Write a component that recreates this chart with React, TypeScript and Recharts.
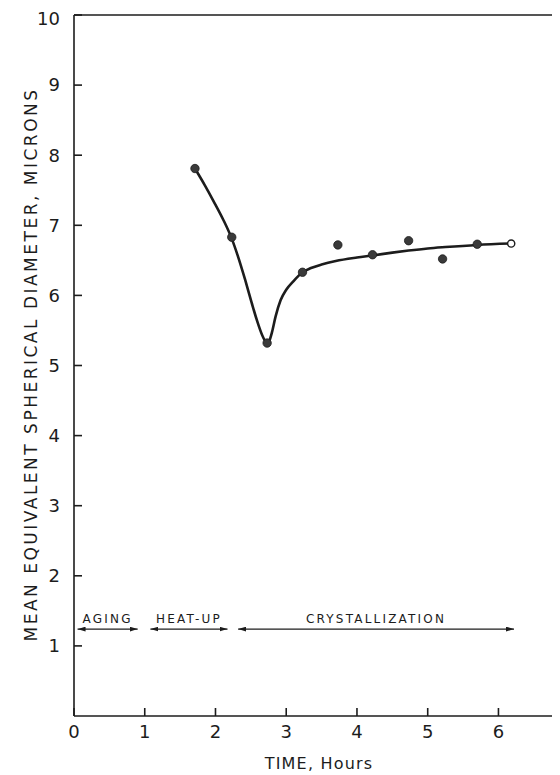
import React from "react";
import {
  ComposedChart,
  Line,
  Scatter,
  XAxis,
  YAxis,
  ReferenceLine,
  Label,
} from "recharts";

// measured points (hours, microns)
const sampleHours = [1.71, 2.23, 2.73, 3.23, 3.73, 4.22, 4.73, 5.21, 5.7];
const sampleDiameter = [7.81, 6.83, 5.32, 6.33, 6.72, 6.58, 6.78, 6.52, 6.73];

// last sample is drawn as an open circle
const finalHours = [6.18];
const finalDiameter = [6.74];

// hand-drawn trend curve
const curveHours = [
  1.71, 1.85, 1.97, 2.11, 2.23, 2.32, 2.42, 2.51, 2.6, 2.67, 2.73, 2.76, 2.8,
  2.85, 2.92, 3.0, 3.1, 3.23, 3.35, 3.5, 3.7, 4.0, 4.22, 4.5, 4.73, 5.0, 5.25,
  5.7, 6.18,
];
const curveDiameter = [
  7.81, 7.57, 7.35, 7.08, 6.81, 6.55, 6.22, 5.9, 5.6, 5.41, 5.32, 5.35, 5.48,
  5.7, 5.93, 6.08, 6.2, 6.33, 6.39, 6.44, 6.49, 6.54, 6.57, 6.61, 6.64, 6.67,
  6.69, 6.72, 6.74,
];

// process stages marked along the bottom
const stageNames = ["AGING", "HEAT-UP", "CRYSTALLIZATION"];
const stageStart = [0.05, 1.08, 2.32];
const stageEnd = [0.9, 2.17, 6.22];
const stageLevel = 1.24;

const xTicks = [0, 1, 2, 3, 4, 5, 6];
const yTicks = [1, 2, 3, 4, 5, 6, 7, 8, 9, 10];

const samples = sampleHours.map((t, i) => ({ t, d: sampleDiameter[i] }));
const finalSample = finalHours.map((t, i) => ({ t, d: finalDiameter[i] }));
const curve = curveHours.map((t, i) => ({ t, d: curveDiameter[i] }));

const INK = "#1c1c1c";
const FONT = "'DejaVu Sans', sans-serif";

const YTitle = (props: any) => {
  const vb = props.viewBox;
  const x = vb.x + 23;
  const y = vb.y + vb.height / 2 - 1;
  return (
    <text
      x={x}
      y={y}
      transform={`rotate(-90, ${x}, ${y})`}
      textAnchor="middle"
      dominantBaseline="central"
      fill={INK}
      fontSize={17}
      letterSpacing={2.5}
      fontFamily={FONT}
    >
      MEAN EQUIVALENT SPHERICAL DIAMETER, MICRONS
    </text>
  );
};

const XTitle = (props: any) => {
  const vb = props.viewBox;
  return (
    <text
      x={vb.x + vb.width / 2 + 2}
      y={vb.y + 53}
      textAnchor="middle"
      fill={INK}
      fontSize={16}
      letterSpacing={1.2}
      fontFamily={FONT}
    >
      TIME, Hours
    </text>
  );
};

const StageArrow = (props: any) => (
  <line
    x1={props.x1}
    y1={props.y1}
    x2={props.x2}
    y2={props.y2}
    stroke={INK}
    strokeWidth={1.3}
    markerStart="url(#stageHead)"
    markerEnd="url(#stageHead)"
  />
);

export default function App() {
  return (
    <ComposedChart
      width={552}
      height={767}
      margin={{ top: 7, right: 0, bottom: 0, left: 0 }}
    >
      <defs>
        <marker
          id="stageHead"
          viewBox="0 0 10 6"
          refX={10}
          refY={3}
          markerWidth={8}
          markerHeight={5}
          markerUnits="userSpaceOnUse"
          orient="auto-start-reverse"
        >
          <path d="M0,0 L10,3 L0,6 Z" fill={INK} />
        </marker>
      </defs>
      <XAxis
        type="number"
        dataKey="t"
        domain={[0, 6.87]}
        ticks={xTicks}
        allowDataOverflow
        height={59}
        stroke={INK}
        strokeWidth={1.6}
        tickSize={-8}
        tickMargin={17}
        tick={{ fill: INK, fontSize: 18, fontFamily: FONT }}
      >
        <Label content={<XTitle />} />
      </XAxis>
      <YAxis
        type="number"
        dataKey="d"
        domain={[0, 10]}
        ticks={yTicks}
        width={66}
        stroke={INK}
        strokeWidth={1.6}
        tickSize={-8}
        tickMargin={22}
        tick={{ fill: INK, fontSize: 18, fontFamily: FONT }}
      >
        <Label content={<YTitle />} />
      </YAxis>
      <ReferenceLine y={10} stroke={INK} strokeWidth={1.6} />
      {stageNames.map((name, i) => (
        <ReferenceLine
          key={name}
          segment={[
            { x: stageStart[i], y: stageLevel },
            { x: stageEnd[i], y: stageLevel },
          ]}
          shape={<StageArrow />}
          label={{
            value: name,
            position: "top",
            offset: 6,
            fill: INK,
            fontSize: 12,
            letterSpacing: 2.2,
            fontFamily: FONT,
          }}
        />
      ))}
      <Line
        data={curve}
        dataKey="d"
        type="monotone"
        stroke={INK}
        strokeWidth={2.6}
        dot={false}
        activeDot={false}
        isAnimationActive={false}
      />
      <Scatter
        data={samples}
        dataKey="d"
        fill="#3a3a3a"
        shape={(p: any) => (
          <circle cx={p.cx} cy={p.cy} r={4.2} fill="#3a3a3a" stroke={INK} strokeWidth={0.8} />
        )}
        isAnimationActive={false}
      />
      <Scatter
        data={finalSample}
        dataKey="d"
        shape={(p: any) => (
          <circle cx={p.cx} cy={p.cy} r={3.6} fill="#ffffff" stroke={INK} strokeWidth={1.4} />
        )}
        isAnimationActive={false}
      />
    </ComposedChart>
  );
}
